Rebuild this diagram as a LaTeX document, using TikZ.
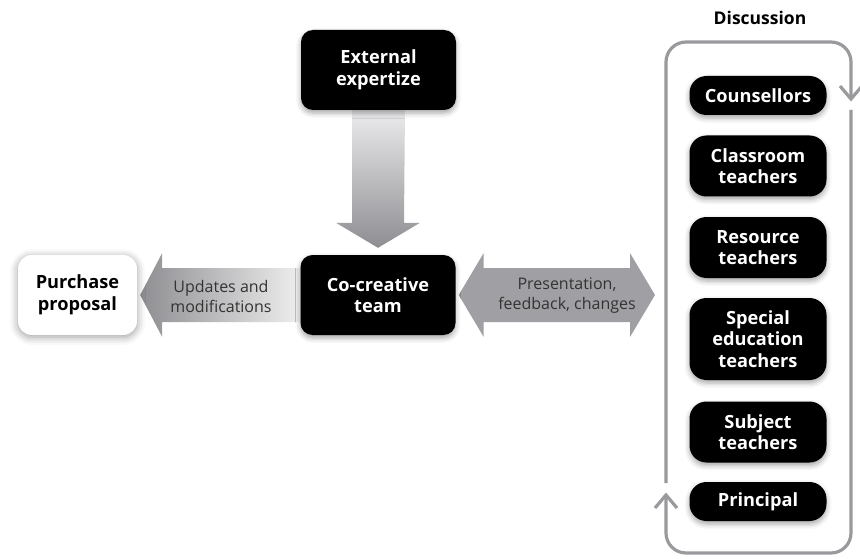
\documentclass[tikz,border=0pt]{standalone}
\usepackage{fontspec}
\setmainfont{Open Sans}
\usetikzlibrary{calc,backgrounds,shadows.blur}
\definecolor{framegray}{HTML}{9A9A9E}
\definecolor{labelgray}{HTML}{333333}
\definecolor{arrdark}{HTML}{8E8E92}
\definecolor{arrmid}{HTML}{A0A0A4}
\definecolor{arrlight}{HTML}{EDEDEF}
\begin{document}
\begin{tikzpicture}[x=1pt,y=-1pt,
  blackbox/.style={rectangle, rounded corners=12pt, fill=black, text=white,
    font=\bfseries\fontsize{18.2}{21.5}\selectfont, align=center, inner sep=0pt,
    blur shadow={shadow xshift=0pt, shadow yshift=-3pt, shadow blur radius=5pt, shadow opacity=35}},
  pill/.style={blackbox, rounded corners=17pt, minimum width=137pt},
  whitebox/.style={rectangle, rounded corners=14pt, fill=white, text=black,
    font=\bfseries\fontsize{18.2}{21.5}\selectfont, align=center, inner sep=0pt,
    blur shadow={shadow xshift=0pt, shadow yshift=-2pt, shadow blur radius=8pt, shadow opacity=40}},
  lbl/.style={font=\fontsize{16}{20}\selectfont, text=labelgray, align=center},
  title/.style={font=\bfseries\fontsize{17.5}{20}\selectfont, text=black},
  frameline/.style={draw=framegray, line width=3.2pt, rounded corners=20pt},
  chevron/.style={draw=framegray, line width=3.2pt, line join=miter, line cap=butt},
]
\useasboundingbox (0,0) rectangle (860,559);

% main nodes
\node[blackbox, minimum width=155pt, minimum height=80pt] (ext) at (378.5,70) {External\\expertize};
\node[blackbox, minimum width=155pt, minimum height=80pt] (team) at (378,295) {Co-creative\\team};
\node[whitebox, minimum width=119pt, minimum height=80pt] (pp) at (77.5,295) {Purchase\\proposal};

% right column
\node[title] (disc) at (760,18) {Discussion};
\node[pill, minimum height=39pt] (c1) at (758,95.5) {Counsellors};
\node[pill, minimum height=61pt] (c2) at (758,166) {Classroom\\teachers};
\node[pill, minimum height=61pt] (c3) at (758,247.5) {Resource\\teachers};
\node[pill, minimum height=82pt] (c4) at (758,339) {Special\\education\\teachers};
\node[pill, minimum height=61pt] (c5) at (758,432) {Subject\\teachers};
\node[pill, minimum height=39pt] (c6) at (758,501.5) {Principal};

% frame coordinates
\coordinate (fTL) at (666,42);
\coordinate (fTR) at (851,42);
\coordinate (fBR) at (851,553);
\coordinate (fBL) at (666,553);
\coordinate (fL) at (666,295);

\begin{scope}[on background layer]
  % vertical arrow
  \shade[top color=arrlight, bottom color=arrdark]
    ($(ext.south)+(-26.5,-2)$) -- ($(team.north)+(-26,-32)$) -- ($(team.north)+(-42,-32)$)
    -- ($(team.north)+(0,-7)$) -- ($(team.north)+(42,-32)$) -- ($(team.north)+(26,-32)$)
    -- ($(ext.south)+(26.5,-2)$) -- cycle;
  % left arrow
  \shade[left color=arrdark, right color=white!96!black]
    ($(pp.east)+(3,0)$) -- ($(pp.east)+(25,-42)$) -- ($(pp.east)+(25,-27)$)
    -- ($(team.west)+(10,-27)$) -- ($(team.west)+(10,27)$) -- ($(pp.east)+(25,27)$)
    -- ($(pp.east)+(25,42)$) -- cycle;
  % double arrow
  \shade[left color=arrmid, middle color=arrlight, right color=arrmid]
    ($(team.east)+(3,0)$) -- ($(team.east)+(28,-42)$) -- ($(team.east)+(28,-27)$)
    -- ($(fL)+(-36,-27)$) -- ($(fL)+(-36,-42)$) -- ($(fL)+(-11,0)$)
    -- ($(fL)+(-36,42)$) -- ($(fL)+(-36,27)$) -- ($(team.east)+(28,27)$)
    -- ($(team.east)+(28,42)$) -- cycle;
\end{scope}

\node[lbl] (l1) at (221,296) {Updates and\\modifications};
\node[lbl] (l2) at (567,296) {Presentation,\\feedback, changes};

% discussion frame
\draw[frameline] (666,483) -- (fTL) -- (fTR) -- (851,99);
\draw[chevron] (840,86) -- (851,99) -- (862,86);
\draw[frameline] (851,110) -- (fBR) -- (fBL) -- (666,495);
\draw[chevron] (655,508) -- (666,495) -- (677,508);
\end{tikzpicture}
\end{document}
